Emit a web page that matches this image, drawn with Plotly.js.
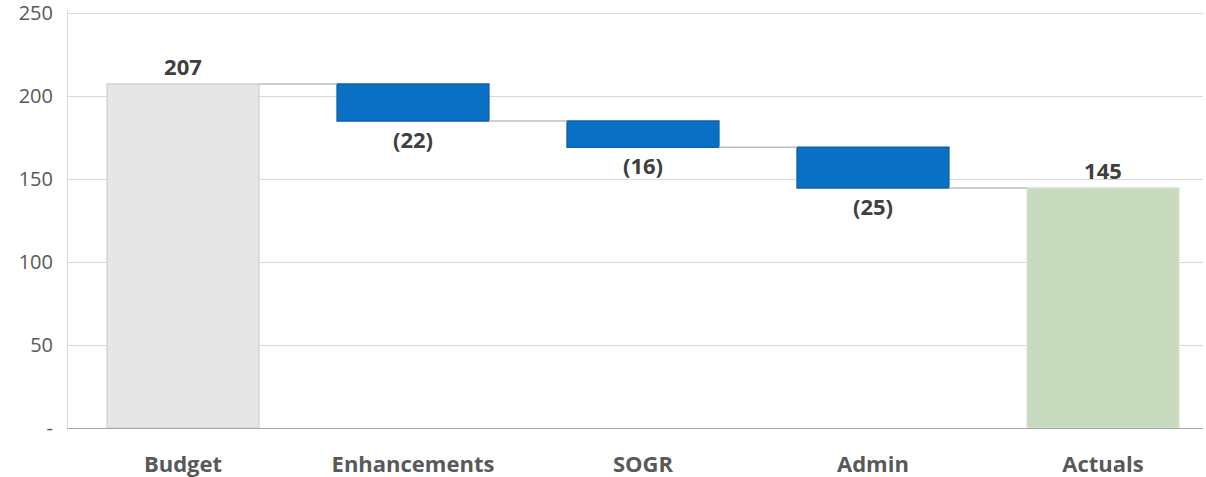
<!DOCTYPE html>
<html>
<head>
<meta charset="utf-8">
<script src="https://cdn.plot.ly/plotly-3.0.1.min.js"></script>
<style>html,body{margin:0;padding:0;background:#fff}#chart{width:1206px;height:477px}</style>
</head>
<body>
<div id="chart"></div>
<script>
// Data
var categories = ["Budget", "Enhancements", "SOGR", "Admin", "Actuals"];
var measures = ["absolute", "relative", "relative", "relative", "total"];
var values = [207.4, -22.3, -15.8, -24.6, 144.7];
var labels = ["207", "(22)", "(16)", "(25)", "145"];
var yTickVals = [0, 50, 100, 150, 200, 250];
var yTickText = ["-", "50", "100", "150", "200", "250"];

// Styles
var colTotalStart = "#e6e6e6";
var colTotalEnd = "#c8dabd";
var colDecrease = "#0a70c4";

// Build bases / lengths from data
var bases = [], lens = [], colors = [], lineColors = [], levels = [];
var running = 0;
for (var i = 0; i < categories.length; i++) {
  if (measures[i] === "absolute") {
    bases.push(0); lens.push(values[i]); running = values[i];
  } else if (measures[i] === "total") {
    bases.push(0); lens.push(running);
  } else {
    bases.push(running); lens.push(values[i]); running += values[i];
  }
  levels.push(running);
  if (i === 0) { colors.push(colTotalStart); lineColors.push("#d4d4d4"); }
  else if (measures[i] === "total") { colors.push(colTotalEnd); lineColors.push("#d8e2d2"); }
  else { colors.push(colDecrease); lineColors.push("#0b62ad"); }
}

var barWidth = 0.66;
var trace = {
  type: "bar",
  x: categories,
  y: lens,
  base: bases,
  width: barWidth,
  text: labels,
  texttemplate: "%{text}",
  textposition: "outside",
  cliponaxis: false,
  textfont: {family: "Open Sans, sans-serif", size: 22, color: "#404040", weight: 700},
  marker: {color: colors, line: {color: lineColors, width: 1.5}},
  hoverinfo: "skip"
};

// Connector lines between bars
var shapes = [];
for (var j = 0; j < categories.length - 1; j++) {
  shapes.push({
    type: "line", xref: "x", yref: "y",
    x0: j + barWidth / 2, x1: j + 1 - barWidth / 2,
    y0: levels[j], y1: levels[j],
    line: {color: "#bfbfbf", width: 1.5}
  });
}

var layout = {
  width: 1206, height: 477,
  margin: {l: 68, r: 3, t: 10, b: 49},
  paper_bgcolor: "#fff", plot_bgcolor: "#fff",
  showlegend: false,
  xaxis: {
    type: "category",
    range: [-0.5, 4.435],
    showgrid: false,
    showline: true, linecolor: "#a6a6a6", linewidth: 1,
    ticks: "",
    ticklabelstandoff: 17,
    tickfont: {family: "Open Sans, sans-serif", size: 22, color: "#595959", weight: 700},
    fixedrange: true
  },
  yaxis: {
    range: [0, 252],
    tickvals: yTickVals, ticktext: yTickText,
    ticklabeloverflow: "allow",
    showgrid: true, gridcolor: "#d9d9d9", gridwidth: 1,
    showline: true, linecolor: "#d9d9d9", linewidth: 1,
    zeroline: false,
    ticks: "",
    ticklabelstandoff: 10,
    tickfont: {family: "Open Sans, sans-serif", size: 20, color: "#595959"},
    fixedrange: true
  },
  shapes: shapes
};

Plotly.newPlot("chart", [trace], layout, {displayModeBar: false, staticPlot: true});
</script>
</body>
</html>
